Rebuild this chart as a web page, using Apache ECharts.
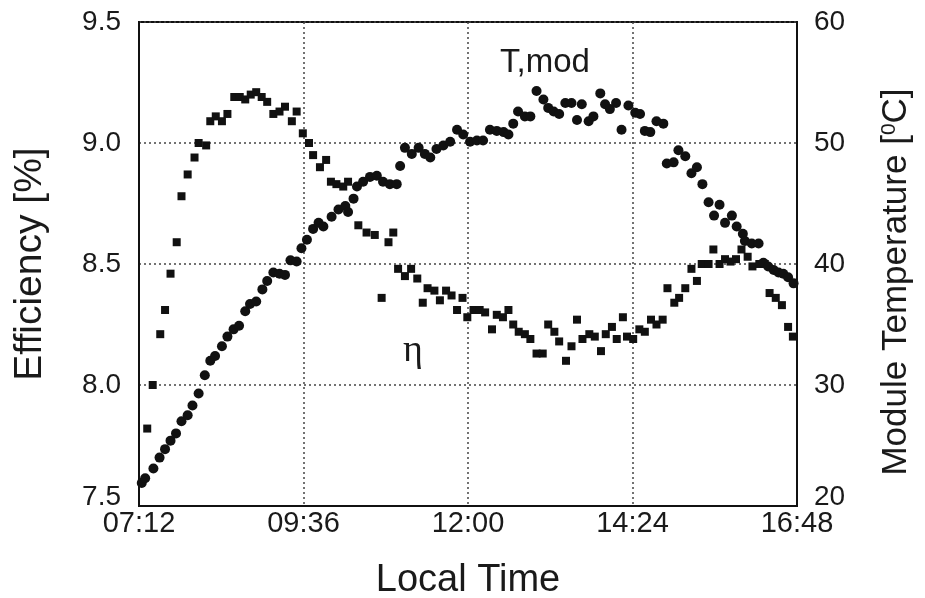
<!DOCTYPE html>
<html>
<head>
<meta charset="utf-8">
<script src="https://cdn.jsdelivr.net/npm/echarts@6/dist/echarts.min.js"></script>
<style>html,body{margin:0;padding:0;background:#fff;}#c{width:925px;height:598px;}</style>
</head>
<body>
<div id="c"></div>
<script>
// Efficiency (squares), time in decimal hours
const etaTime = [7.32,7.40,7.51,7.58,7.66,7.75,7.82,7.91,8.01,8.07,8.18,8.24,8.32,8.41,8.49,8.59,8.67,8.75,8.83,8.91,8.99,9.07,9.16,9.25,9.33,9.43,9.50,9.59,9.68,9.74,9.84,9.93,10.00,10.08,10.18,10.25,10.40,10.52,10.64,10.74,10.84,10.91,10.98,11.08,11.17,11.26,11.34,11.41,11.51,11.59,11.68,11.76,11.84,11.92,11.99,12.08,12.17,12.25,12.35,12.42,12.51,12.59,12.66,12.74,12.83,12.91,13.00,13.09,13.17,13.26,13.33,13.43,13.51,13.59,13.67,13.77,13.85,13.94,14.01,14.10,14.17,14.26,14.32,14.41,14.50,14.58,14.67,14.75,14.84,14.91,15.01,15.08,15.17,15.26,15.34,15.41,15.51,15.58,15.67,15.75,15.83,15.91,15.99,16.08,16.15,16.25,16.33,16.40,16.49,16.58,16.67,16.74];
const etaValue = [7.82,8.00,8.21,8.31,8.46,8.59,8.78,8.87,8.94,9.00,8.99,9.09,9.11,9.09,9.12,9.19,9.19,9.18,9.20,9.21,9.19,9.17,9.12,9.13,9.15,9.09,9.13,9.04,9.00,8.95,8.90,8.93,8.84,8.83,8.82,8.84,8.66,8.63,8.62,8.36,8.59,8.63,8.48,8.45,8.48,8.44,8.34,8.40,8.39,8.35,8.39,8.37,8.31,8.36,8.28,8.31,8.31,8.30,8.23,8.29,8.28,8.31,8.25,8.22,8.21,8.19,8.13,8.13,8.25,8.22,8.18,8.10,8.16,8.27,8.19,8.21,8.20,8.14,8.21,8.24,8.19,8.28,8.20,8.19,8.23,8.22,8.27,8.25,8.27,8.40,8.34,8.36,8.40,8.48,8.43,8.50,8.50,8.56,8.50,8.52,8.51,8.52,8.56,8.53,8.49,8.50,8.50,8.38,8.36,8.33,8.24,8.20];
// Module temperature (circles)
const tempTime = [7.24,7.29,7.41,7.50,7.58,7.66,7.74,7.82,7.91,7.98,8.07,8.16,8.24,8.31,8.41,8.49,8.58,8.66,8.75,8.82,8.91,9.00,9.07,9.16,9.25,9.33,9.41,9.50,9.57,9.65,9.74,9.82,9.89,10.01,10.11,10.21,10.25,10.33,10.38,10.47,10.57,10.67,10.76,10.86,10.96,11.01,11.08,11.18,11.28,11.37,11.45,11.54,11.64,11.74,11.84,11.93,12.03,12.13,12.22,12.32,12.42,12.52,12.59,12.66,12.73,12.83,12.91,13.00,13.10,13.17,13.25,13.33,13.42,13.51,13.59,13.66,13.76,13.83,13.93,14.00,14.07,14.16,14.24,14.34,14.44,14.51,14.58,14.66,14.75,14.85,14.90,15.00,15.07,15.17,15.26,15.34,15.42,15.51,15.59,15.67,15.75,15.85,15.92,16.01,16.04,16.14,16.24,16.31,16.38,16.46,16.53,16.60,16.67,16.75];
const tempValue = [21.9,22.3,23.1,24.0,24.7,25.4,26.0,27.0,27.5,28.3,29.3,30.8,32.0,32.4,33.2,34.0,34.6,34.9,36.1,36.7,36.9,37.9,38.6,39.3,39.2,39.1,40.3,40.2,41.3,42.0,42.9,43.4,43.1,43.9,44.5,44.8,44.3,45.4,46.4,46.8,47.2,47.3,46.8,46.6,46.6,48.1,49.6,49.1,49.6,49.1,48.8,49.5,49.8,50.1,51.1,50.7,50.1,50.2,50.2,51.1,51.0,50.9,50.7,51.6,52.6,52.2,52.2,54.3,53.6,52.9,52.6,52.4,53.3,53.3,51.9,53.2,51.8,52.2,54.1,53.2,52.8,53.3,51.1,53.1,52.5,52.4,51.0,50.9,51.8,51.6,48.3,48.4,49.4,48.9,47.5,48.0,46.6,45.1,44.0,44.9,43.4,44.0,43.1,42.5,41.9,41.7,41.7,40.1,39.8,39.5,39.3,39.2,38.9,38.4];
const xTickLabels = ['07:12','09:36','12:00','14:24','16:48'];

const FONT = 'Liberation Sans, Arial, sans-serif';
const chart = echarts.init(document.getElementById('c'));
function fmtTime(v){
  const m = Math.round(v*60);
  const h = Math.floor(m/60), mm = m%60;
  return String(h).padStart(2,'0')+':'+String(mm).padStart(2,'0');
}
const lowRich = {low:{fontFamily:FONT, fontSize:28, color:'#1a1a1a', padding:[0,0,18,0]}};
const gridLine = {show:true, lineStyle:{color:'#444', type:[2,3], width:1.5}};
chart.setOption({
  animation:false,
  backgroundColor:'#fff',
  grid:{left:139, right:128, top:22, bottom:92, show:true, borderColor:'#111', borderWidth:2, outerBoundsMode:'none', containLabel:false},
  xAxis:{
    type:'value', min:7.2, max:16.8, interval:2.4,
    name:'Local Time', nameLocation:'middle', nameGap:56,
    nameTextStyle:{fontFamily:FONT, fontSize:38, color:'#1a1a1a'},
    axisLine:{show:true, lineStyle:{color:'#111', width:2}},
    axisTick:{show:false},
    axisLabel:{fontFamily:FONT, fontSize:29, color:'#1a1a1a', margin:3,
      formatter:function(v){ const s=fmtTime(v); return xTickLabels.indexOf(s)>=0?s:''; }},
    splitLine:gridLine
  },
  yAxis:[{
    type:'value', min:7.5, max:9.5, interval:0.5, position:'left',
    name:'Efficiency [%]', nameLocation:'middle', nameGap:89, nameRotate:90,
    nameTextStyle:{fontFamily:FONT, fontSize:39, color:'#1a1a1a'},
    axisLine:{show:true, lineStyle:{color:'#111', width:2}},
    axisTick:{show:false},
    axisLabel:{fontFamily:FONT, fontSize:28, color:'#1a1a1a', margin:18, rich:lowRich,
      formatter:function(v){ const s=v.toFixed(1); return v===7.5?'{low|'+s+'}':s; }},
    splitLine:gridLine
  },{
    type:'value', min:20, max:60, interval:10, position:'right',
    name:'Module Temperature [{sup|0}C]', nameLocation:'middle', nameGap:82, nameRotate:90,
    nameTextStyle:{fontFamily:FONT, fontSize:35, color:'#1a1a1a', padding:[0,36,0,0],
      rich:{sup:{fontFamily:FONT, fontSize:21, color:'#1a1a1a', verticalAlign:'top', padding:[0,0,12,0]}}},
    axisLine:{show:true, lineStyle:{color:'#111', width:2}},
    axisTick:{show:false},
    axisLabel:{fontFamily:FONT, fontSize:28, color:'#1a1a1a', margin:17, rich:lowRich,
      formatter:function(v){ return v===20?'{low|20}':String(v); }},
    splitLine:{show:false}
  }],
  series:[{
    type:'scatter', name:'eta', yAxisIndex:0, symbol:'rect', symbolSize:8,
    itemStyle:{color:'#111', opacity:1},
    data: etaTime.map((t,i)=>[t, etaValue[i]])
  },{
    type:'scatter', name:'T', yAxisIndex:1, symbol:'circle', symbolSize:10,
    itemStyle:{color:'#111', opacity:1},
    data: tempTime.map((t,i)=>[t, tempValue[i]])
  }],
  graphic:[
    {type:'text', left:500, top:46, style:{text:'T,mod', font:'33px Liberation Sans, Arial, sans-serif', fill:'#1a1a1a'}},
    {type:'text', left:403, top:332, style:{text:'η', font:'38px Liberation Serif, DejaVu Serif, serif', fill:'#1a1a1a'}}
  ]
});
</script>
</body>
</html>
